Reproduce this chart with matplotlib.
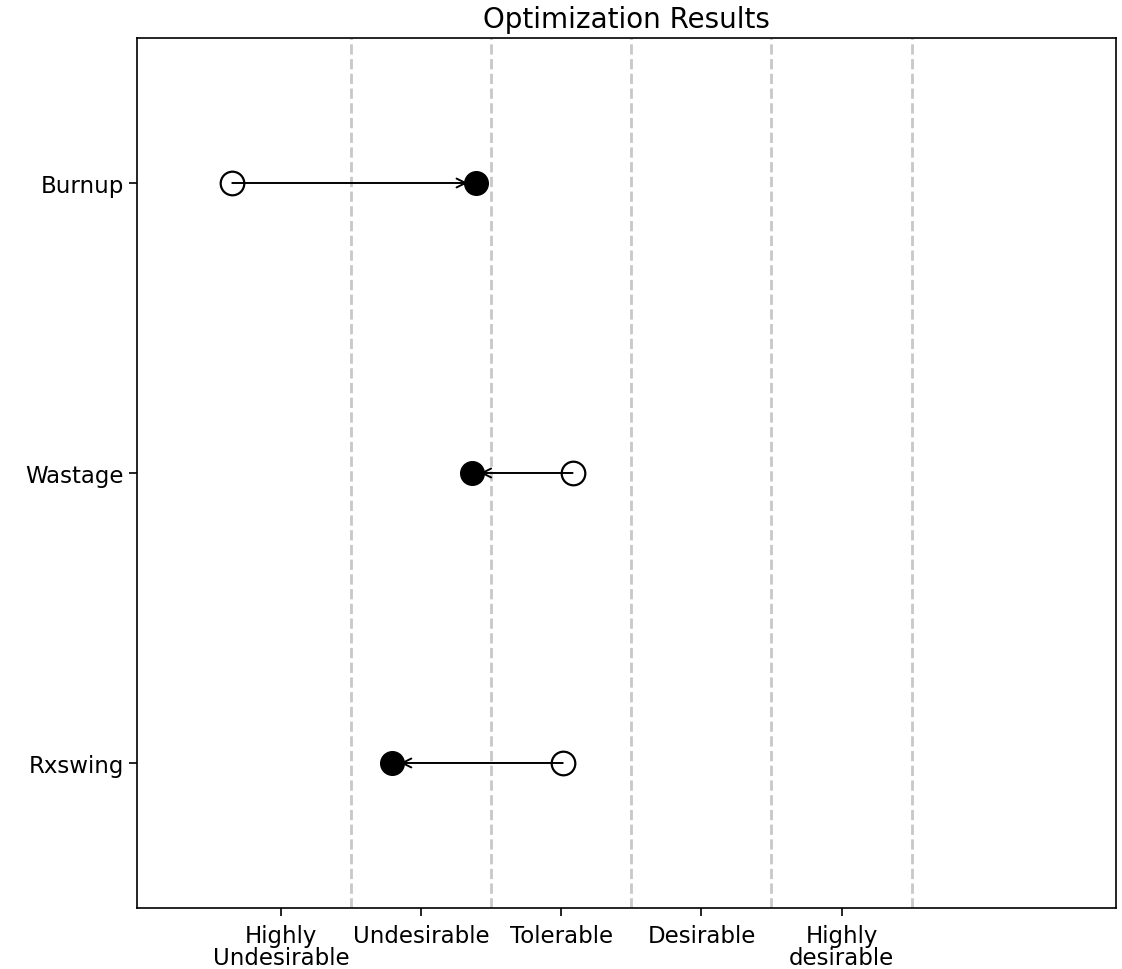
import matplotlib
matplotlib.use('Agg')
import matplotlib.pyplot as plt
import numpy as np

# objectives and their scores before / after optimization
objectives = ['Burnup', 'Wastage', 'Rxswing']
initial = [0.15, 2.58, 2.51]
optimized = [1.89, 1.86, 1.29]

# category bands on the x axis
bounds = [1, 2, 3, 4, 5]
categories = ['Highly\nUndesirable', 'Undesirable', 'Tolerable', 'Desirable', 'Highly\ndesirable']
cat_pos = [0.5, 1.5, 2.5, 3.5, 4.5]


def main():
    fig = plt.figure(figsize=(11.22, 9.7), dpi=100)
    ax = fig.add_axes([0.1221, 0.0629, 0.8726, 0.8969])

    y = np.arange(len(objectives))[::-1]

    for b in bounds:
        ax.axvline(b, color='#c8c8c8', linestyle='--', linewidth=2, zorder=0)

    ms = 17
    for yi, x0, x1 in zip(y, initial, optimized):
        ax.annotate('', xy=(x1, yi), xytext=(x0, yi),
                    arrowprops=dict(arrowstyle='->', color='black', lw=1.4,
                                    shrinkA=0, shrinkB=6, mutation_scale=16),
                    zorder=2)
    ax.plot(initial, y, 'o', markersize=ms, markerfacecolor='none',
            markeredgecolor='black', markeredgewidth=1.6, zorder=3, linestyle='none')
    ax.plot(optimized, y, 'o', markersize=ms, markerfacecolor='black',
            markeredgecolor='black', zorder=3, linestyle='none')

    ax.set_xlim(-0.53, 6.46)
    ax.set_ylim(-0.5, 2.5)
    ax.set_yticks(y)
    ax.set_yticklabels(objectives, fontsize=16.5)
    ax.set_xticks(cat_pos)
    ax.set_xticklabels(categories, fontsize=16.5, linespacing=0.95)
    ax.tick_params(length=6, width=1.2)
    ax.tick_params(axis='x', pad=5.5)
    for s in ax.spines.values():
        s.set_linewidth(1.2)
    ax.set_title('Optimization Results', fontsize=20, pad=8)

    fig.savefig('out.png', dpi=100)


if __name__ == '__main__':
    main()
